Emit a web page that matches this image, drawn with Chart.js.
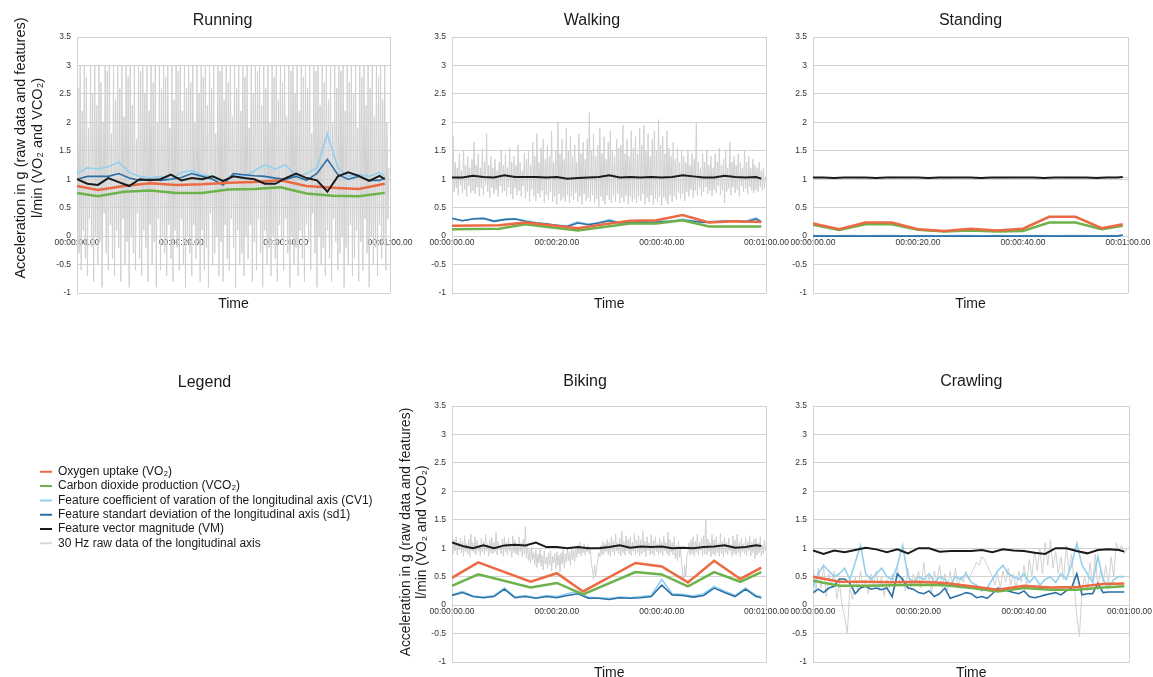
<!DOCTYPE html>
<html>
<head>
<meta charset="utf-8">
<script src="https://cdn.jsdelivr.net/npm/chart.js@4.4.0/dist/chart.umd.min.js"></script>
<style>
  html, body { margin: 0; padding: 0; background: #fff; }
  body { width: 1153px; height: 677px; overflow: hidden; position: relative; }
  canvas { position: absolute; }
</style>
</head>
<body>
<canvas id="running" width="420" height="330" style="left:0;top:0"></canvas>
<canvas id="walking" width="390" height="330" style="left:400px;top:0"></canvas>
<canvas id="standing" width="373" height="330" style="left:780px;top:0"></canvas>
<canvas id="legend" width="440" height="260" style="left:0;top:360px"></canvas>
<canvas id="biking" width="410" height="340" style="left:380px;top:360px"></canvas>
<canvas id="crawling" width="373" height="340" style="left:780px;top:360px"></canvas>
<script>
// ── Shared time grids (seconds) ──
const featTime = [0, 2, 4, 6, 8, 10, 12, 14, 16, 18, 20, 22, 24, 26, 28, 30, 32, 34, 36, 38, 40, 42, 44, 46, 48, 50, 52, 54, 56, 58, 59];
const featTime1s = [0, 1, 2, 3, 4, 5, 6, 7, 8, 9, 10, 11, 12, 13, 14, 15, 16, 17, 18, 19, 20, 21, 22, 23, 24, 25, 26, 27, 28, 29,
  30, 31, 32, 33, 34, 35, 36, 37, 38, 39, 40, 41, 42, 43, 44, 45, 46, 47, 48, 49, 50, 51, 52, 53, 54, 55, 56, 57, 58, 59];
const xTicks = [0, 20, 40, 60];
const yTicks = [-1, -0.5, 0, 0.5, 1, 1.5, 2, 2.5, 3, 3.5];

// ── Running ──
const runningGasTime = [0, 4, 9, 14, 19, 24, 29, 34, 39, 44, 49, 54, 59];
const runningVO2 = [0.88, 0.81, 0.88, 0.93, 0.9, 0.91, 0.94, 0.95, 0.98, 0.88, 0.85, 0.83, 0.92];
const runningVCO2 = [0.76, 0.7, 0.78, 0.8, 0.76, 0.76, 0.82, 0.83, 0.86, 0.75, 0.71, 0.7, 0.76];
const runningCV1 = [1.1, 1.2, 1.18, 1.22, 1.3, 1.12, 1.05, 1.02, 1.05, 1.0, 1.12, 1.15, 1.08, 1.05, 0.95, 1.1, 1.05, 1.15, 1.25, 1.18, 1.25, 1.05, 1.1, 1.2, 1.8, 1.2, 1.05, 1.08, 1.05, 1.12, 1.05];
const runningSD1 = [1.0, 1.05, 1.05, 1.05, 1.1, 1.02, 0.98, 1.0, 0.98, 1.0, 1.03, 1.1, 1.05, 1.0, 0.9, 1.1, 1.08, 1.06, 1.05, 1.02, 1.0, 1.05, 0.98, 1.1, 1.35, 1.08, 1.0, 1.05, 0.98, 0.98, 1.02];
const runningVM = [1.0, 0.92, 0.9, 1.02, 0.95, 0.88, 1.0, 0.98, 1.0, 1.08, 0.98, 1.02, 1.0, 1.05, 0.97, 1.05, 1.02, 1.0, 0.92, 0.92, 1.02, 1.1, 1.02, 0.98, 0.78, 1.05, 1.12, 1.06, 0.97, 1.06, 1.0];
const runningRaw = [
  1.0, 2.6, -0.3, 3.0, -0.6, 2.2, 0.1, 3.0, -0.4, 2.8,
  -0.7, 1.9, 0.3, 3.0, -0.2, 2.5, -0.8, 3.0, 0.0, 2.3,
  -0.5, 3.0, -0.1, 2.7, -0.9, 2.0, 0.4, 3.0, -0.3, 2.9,
  -0.6, 3.0, 0.2, 1.8, -0.4, 3.0, -0.7, 2.4, 0.1, 3.0,
  -0.2, 2.6, -0.8, 3.0, 0.3, 2.1, -0.5, 3.0, -0.1, 2.8,
  -0.9, 3.0, 0.0, 2.3, -0.3, 3.0, -0.6, 1.7, 0.4, 3.0,
  -0.4, 2.9, -0.7, 3.0, 0.1, 2.5, -0.2, 3.0, -0.8, 2.2,
  0.2, 3.0, -0.5, 2.7, -0.1, 3.0, -0.9, 2.0, 0.3, 3.0,
  -0.6, 2.6, 0.0, 3.0, -0.3, 2.8, -0.7, 3.0, 0.2, 1.9,
  -0.4, 3.0, -0.8, 2.4, 0.1, 3.0, -0.2, 2.9, -0.6, 3.0,
  0.3, 2.2, -0.5, 3.0, -0.9, 2.6, 0.0, 3.0, -0.3, 2.7,
  -0.7, 3.0, 0.2, 2.0, -0.4, 3.0, -0.1, 2.5, -0.8, 3.0,
  0.1, 2.8, -0.6, 3.0, -0.2, 2.3, -0.9, 3.0, 0.4, 2.6,
  -0.5, 3.0, -0.3, 1.8, 0.0, 3.0, -0.7, 2.9, -0.1, 3.0,
  -0.8, 2.4, 0.2, 3.0, -0.4, 2.7, -0.6, 3.0, 0.3, 2.1,
  -0.2, 3.0, -0.9, 2.6, 0.1, 3.0, -0.5, 2.2, -0.3, 3.0,
  -0.7, 2.8, 0.0, 3.0, -0.4, 1.9, 0.2, 3.0, -0.8, 2.5,
  -0.1, 3.0, -0.6, 2.9, 0.3, 3.0, -0.3, 2.3, -0.9, 3.0,
  0.1, 2.6, -0.5, 3.0, -0.2, 2.0, -0.7, 3.0, 0.0, 2.8,
  -0.4, 3.0, -0.8, 2.4, 0.2, 3.0, -0.1, 2.7, -0.6, 3.0,
  0.3, 2.1, -0.3, 3.0, -0.9, 2.9, 0.0, 3.0, -0.5, 2.5,
  -0.2, 3.0, -0.7, 2.2, 0.1, 3.0, -0.4, 2.8, -0.8, 3.0,
  0.2, 2.6, -0.1, 3.0, -0.6, 1.8, 0.4, 3.0, -0.3, 2.9,
  -0.9, 3.0, 0.0, 2.3, -0.5, 3.0, -0.2, 2.7, -0.7, 3.0,
  0.1, 2.4, -0.4, 3.0, -0.8, 2.0, 0.3, 3.0, -0.1, 2.6,
  -0.6, 3.0, -0.3, 2.9, 0.0, 3.0, -0.9, 2.2, -0.2, 3.0,
  -0.5, 2.7, 0.2, 3.0, -0.7, 2.5, -0.4, 3.0, 0.1, 1.9,
  -0.8, 3.0, -0.1, 2.8, -0.6, 3.0, 0.3, 2.3, -0.3, 3.0,
  -0.9, 2.6, 0.0, 3.0, -0.5, 2.1, -0.2, 3.0, -0.7, 2.8,
  0.2, 3.0, -0.4, 2.4, -0.1, 3.0, -0.6, 2.0, 0.3, 1.2
];

// ── Walking ──
const walkingGasTime = [0, 9, 14, 19, 24, 29, 34, 39, 44, 49, 54, 59];
const walkingVO2 = [0.18, 0.19, 0.24, 0.19, 0.14, 0.21, 0.27, 0.28, 0.37, 0.24, 0.26, 0.25];
const walkingVCO2 = [0.12, 0.13, 0.21, 0.15, 0.1, 0.16, 0.22, 0.22, 0.28, 0.17, 0.17, 0.17];
const walkingCV1 = [0.32, 0.27, 0.31, 0.32, 0.27, 0.3, 0.31, 0.27, 0.24, 0.22, 0.19, 0.18, 0.25, 0.21, 0.24, 0.29, 0.24, 0.25, 0.26, 0.25, 0.26, 0.27, 0.3, 0.27, 0.25, 0.26, 0.27, 0.27, 0.26, 0.32, 0.26];
const walkingSD1 = [0.31, 0.27, 0.3, 0.31, 0.26, 0.29, 0.3, 0.26, 0.23, 0.21, 0.19, 0.17, 0.23, 0.2, 0.23, 0.27, 0.23, 0.24, 0.25, 0.24, 0.25, 0.26, 0.28, 0.26, 0.24, 0.25, 0.26, 0.26, 0.25, 0.3, 0.25];
const walkingVM = [1.03, 1.03, 1.06, 1.04, 1.03, 1.07, 1.04, 1.04, 1.04, 1.03, 1.04, 1.01, 1.02, 1.03, 1.04, 1.07, 1.03, 1.04, 1.03, 1.04, 1.03, 1.04, 1.07, 1.05, 1.03, 1.03, 1.06, 1.04, 1.03, 1.04, 1.01];
const walkingRaw = [
  1.0, 1.75, 0.78, 1.3, 0.85, 1.2, 0.72, 1.45, 0.9, 1.15,
  0.75, 1.5, 0.82, 1.25, 0.7, 1.4, 0.88, 1.2, 0.76, 1.35,
  0.8, 1.65, 0.74, 1.25, 0.86, 1.45, 0.7, 1.2, 0.84, 1.55,
  0.72, 1.3, 0.9, 1.8, 0.78, 1.25, 0.68, 1.4, 0.85, 1.2,
  0.74, 1.35, 0.82, 1.15, 0.7, 1.3, 0.88, 1.5, 0.76, 1.25,
  0.8, 1.45, 0.7, 1.2, 0.86, 1.55, 0.74, 1.3, 0.65, 1.4,
  0.84, 1.25, 0.72, 1.6, 0.8, 1.3, 0.7, 1.15, 0.88, 1.45,
  0.66, 1.35, 0.78, 1.5, 0.6, 1.25, 0.82, 1.65, 0.7, 1.4,
  0.62, 1.8, 0.75, 1.3, 0.68, 1.55, 0.8, 1.7, 0.58, 1.35,
  0.72, 1.6, 0.64, 1.4, 0.78, 1.85, 0.6, 1.3, 0.7, 1.5,
  0.56, 2.0, 0.74, 1.45, 0.62, 1.7, 0.68, 1.35, 0.6, 1.9,
  0.72, 1.5, 0.58, 1.75, 0.7, 1.4, 0.64, 1.6, 0.76, 1.3,
  0.6, 1.8, 0.7, 1.45, 0.56, 1.65, 0.74, 1.35, 0.62, 1.7,
  0.68, 2.17, 0.6, 1.5, 0.72, 1.8, 0.58, 1.4, 0.66, 1.6,
  0.5, 1.9, 0.7, 1.45, 0.62, 1.75, 0.56, 1.35, 0.72, 1.65,
  0.64, 1.85, 0.58, 1.5, 0.7, 1.4, 0.6, 1.7, 0.74, 1.55,
  0.58, 1.6, 0.68, 1.95, 0.6, 1.45, 0.72, 1.7, 0.56, 1.4,
  0.7, 1.85, 0.6, 1.55, 0.66, 1.75, 0.58, 1.45, 0.7, 1.9,
  0.62, 1.6, 0.74, 1.95, 0.56, 1.5, 0.68, 1.8, 0.6, 1.4,
  0.72, 1.7, 0.55, 1.85, 0.66, 1.5, 0.6, 2.05, 0.7, 1.6,
  0.54, 1.75, 0.68, 1.45, 0.62, 1.85, 0.56, 1.55, 0.72, 1.4,
  0.6, 1.65, 0.7, 1.35, 0.64, 1.55, 0.76, 1.3, 0.66, 1.5,
  0.74, 1.4, 0.62, 1.3, 0.78, 1.5, 0.7, 1.25, 0.82, 1.45,
  0.68, 1.35, 0.8, 1.98, 0.72, 1.3, 0.84, 1.2, 0.7, 1.45,
  0.78, 1.3, 0.86, 1.5, 0.74, 1.25, 0.8, 1.4, 0.7, 1.2,
  0.82, 1.45, 0.76, 1.3, 0.88, 1.55, 0.72, 1.25, 0.8, 1.35,
  0.58, 1.5, 0.78, 1.2, 0.84, 1.65, 0.72, 1.3, 0.86, 1.4,
  0.76, 1.25, 0.82, 1.45, 0.7, 1.3, 0.88, 1.2, 0.78, 1.5,
  0.84, 1.3, 0.74, 1.4, 0.86, 1.2, 0.8, 1.35, 0.76, 1.25,
  0.82, 1.2, 0.78, 1.3, 0.86, 1.15, 0.8, 1.2, 0.84, 1.05
];

// ── Standing ──
const standingGasTime = [0, 5, 10, 15, 20, 25, 30, 35, 40, 45, 50, 55, 59];
const standingVO2 = [0.22, 0.12, 0.24, 0.24, 0.12, 0.09, 0.13, 0.1, 0.13, 0.34, 0.34, 0.14, 0.21];
const standingVCO2 = [0.2, 0.11, 0.21, 0.21, 0.11, 0.08, 0.1, 0.08, 0.09, 0.24, 0.24, 0.12, 0.18];
const standingCV1 = [0.01, 0.01, 0.0, 0.01, 0.01, 0.0, 0.01, 0.01, 0.01, 0.0, 0.01, 0.01, 0.0, 0.01, 0.01, 0.01, 0.0, 0.01, 0.01, 0.0, 0.01, 0.01, 0.01, 0.0, 0.01, 0.01, 0.01, 0.0, 0.01, 0.01, 0.02];
const standingSD1 = [0.0, 0.0, 0.0, 0.0, 0.0, 0.0, 0.0, 0.0, 0.0, 0.0, 0.0, 0.0, 0.0, 0.0, 0.0, 0.0, 0.0, 0.0, 0.0, 0.0, 0.0, 0.0, 0.0, 0.0, 0.0, 0.0, 0.0, 0.0, 0.0, 0.0, 0.02];
const standingVM = [1.03, 1.03, 1.02, 1.03, 1.03, 1.03, 1.02, 1.03, 1.03, 1.03, 1.03, 1.02, 1.03, 1.03, 1.03, 1.03, 1.02, 1.03, 1.03, 1.03, 1.03, 1.03, 1.02, 1.03, 1.03, 1.03, 1.03, 1.02, 1.03, 1.03, 1.04];
const standingRaw = [1.02, 1.03, 1.02, 1.04, 1.03, 1.02, 1.03, 1.02, 1.03, 1.03, 1.02, 1.04, 1.03];

// ── Biking ──
const bikingGasTime = [0, 5, 15, 20, 25, 35, 40, 45, 50, 55, 59];
const bikingVO2 = [0.48, 0.75, 0.41, 0.56, 0.24, 0.74, 0.68, 0.4, 0.78, 0.46, 0.66];
const bikingVCO2 = [0.34, 0.54, 0.31, 0.39, 0.19, 0.58, 0.54, 0.33, 0.58, 0.41, 0.58];
const bikingCV1 = [0.18, 0.24, 0.16, 0.14, 0.17, 0.3, 0.14, 0.17, 0.13, 0.17, 0.15, 0.2, 0.24, 0.14, 0.13, 0.12, 0.14, 0.13, 0.15, 0.17, 0.45, 0.2, 0.19, 0.16, 0.2, 0.33, 0.25, 0.17, 0.3, 0.17, 0.15];
const bikingSD1 = [0.17, 0.22, 0.15, 0.13, 0.15, 0.28, 0.13, 0.15, 0.12, 0.15, 0.13, 0.17, 0.2, 0.12, 0.12, 0.1, 0.13, 0.12, 0.13, 0.15, 0.35, 0.18, 0.17, 0.14, 0.17, 0.3, 0.22, 0.15, 0.28, 0.15, 0.13];
const bikingVM = [1.1, 1.04, 1.0, 1.05, 1.0, 1.05, 1.06, 1.05, 1.1, 1.02, 1.02, 1.0, 1.02, 1.0, 1.0, 1.02, 1.05, 1.01, 1.03, 1.02, 1.03, 1.0, 1.01, 1.0, 1.02, 1.03, 1.05, 1.01, 1.02, 1.05, 1.04];
const bikingRaw = [
  1.05, 0.9, 1.15, 0.95, 1.2, 0.88, 1.1, 0.97, 1.18, 0.92,
  1.12, 0.86, 1.22, 0.94, 1.08, 0.9, 1.16, 0.85, 1.25, 0.95,
  1.1, 0.92, 1.2, 0.88, 1.14, 0.96, 1.06, 0.87, 1.18, 0.93,
  1.12, 0.89, 1.24, 0.95, 1.08, 0.86, 1.15, 0.92, 1.2, 0.9,
  1.1, 0.94, 1.28, 0.88, 1.12, 0.97, 1.05, 0.9, 1.16, 0.86,
  1.2, 0.93, 1.1, 0.88, 1.18, 0.95, 1.08, 0.84, 1.22, 0.92,
  1.14, 0.9, 1.06, 0.87, 1.2, 0.94, 1.1, 0.85, 1.16, 0.9,
  1.38, 0.82, 1.05, 0.78, 0.98, 0.74, 1.02, 0.8, 0.92, 0.7,
  0.98, 0.66, 0.9, 0.74, 1.0, 0.68, 0.88, 0.62, 0.95, 0.72,
  0.85, 0.65, 0.92, 0.7, 0.96, 0.6, 0.86, 0.74, 0.9, 0.64,
  0.94, 0.7, 0.88, 0.58, 0.92, 0.72, 0.98, 0.66, 0.9, 0.75,
  1.0, 0.78, 0.94, 0.7, 1.02, 0.8, 0.96, 0.76, 1.04, 0.84,
  1.05, 0.9, 1.1, 0.86, 1.02, 0.92, 1.08, 0.88, 1.0, 0.94,
  1.06, 0.9, 0.98, 0.72, 0.62, 0.45, 0.7, 0.5, 0.66, 0.8,
  0.92, 0.85, 1.05, 0.88, 1.12, 0.9, 1.08, 0.94, 1.15, 0.89,
  1.1, 0.86, 1.2, 0.93, 1.12, 0.88, 1.25, 0.95, 1.1, 0.9,
  1.18, 0.86, 1.3, 0.92, 1.12, 0.88, 1.22, 0.95, 1.15, 0.9,
  1.2, 0.87, 1.1, 0.94, 1.26, 0.89, 1.14, 0.92, 1.22, 0.86,
  1.15, 0.9, 1.3, 0.93, 1.12, 0.85, 1.2, 0.96, 1.1, 0.88,
  1.24, 0.9, 1.14, 0.86, 1.2, 0.94, 1.08, 0.88, 1.18, 0.92,
  1.12, 0.87, 1.22, 0.95, 1.1, 0.9, 1.28, 0.86, 1.15, 0.93,
  1.1, 0.88, 1.2, 0.82, 1.05, 0.78, 1.12, 0.84, 1.0, 0.75,
  0.55, 0.42, 0.7, 0.5, 0.85, 0.92, 1.1, 0.88, 1.15, 0.9,
  1.2, 0.86, 1.12, 0.93, 1.25, 0.88, 1.1, 0.95, 1.18, 0.86,
  1.22, 0.9, 1.5, 0.88, 1.16, 0.94, 1.1, 0.85, 1.24, 0.9,
  1.15, 0.87, 1.2, 0.93, 1.08, 0.86, 1.26, 0.9, 1.12, 0.84,
  1.2, 0.92, 1.1, 0.88, 1.18, 0.95, 1.06, 0.86, 1.22, 0.9,
  1.14, 0.88, 1.25, 0.92, 1.1, 0.85, 1.18, 0.94, 1.08, 0.9,
  1.2, 0.87, 1.12, 0.95, 1.22, 0.86, 1.1, 0.92, 1.16, 0.82,
  1.18, 0.88, 1.1, 0.92, 1.2, 0.86, 1.05, 0.9, 1.15, 0.95
];

// ── Crawling ──
const crawlingGasTime = [0, 5, 10, 15, 20, 25, 30, 35, 40, 45, 50, 55, 59];
const crawlingVO2 = [0.5, 0.41, 0.41, 0.4, 0.41, 0.39, 0.33, 0.27, 0.34, 0.31, 0.32, 0.37, 0.38];
const crawlingVCO2 = [0.43, 0.34, 0.34, 0.35, 0.36, 0.35, 0.3, 0.24, 0.3, 0.27, 0.27, 0.31, 0.33];
const crawlingCV1 = [
  0.3, 0.55, 0.7, 0.6, 0.5, 0.55, 0.65, 0.45, 0.75, 1.05,
  0.55, 0.45, 0.55, 0.65, 0.5, 0.45, 0.7, 1.05, 0.5, 0.4,
  0.5, 0.45, 0.55, 0.4, 0.5, 0.45, 0.35, 0.5, 0.45, 0.55,
  0.4, 0.35, 0.25, 0.3, 0.45, 0.6, 0.7, 0.55, 0.5, 0.45,
  0.55, 0.4, 0.5, 0.35, 0.45, 0.5, 0.4, 0.55, 0.45, 0.7,
  1.08, 0.7, 0.55, 0.4, 0.85, 0.45, 0.3, 0.45, 0.5, 0.5
];
const crawlingSD1 = [
  0.22, 0.28, 0.22, 0.3, 0.33, 0.46, 0.46, 0.38, 0.2, 0.3,
  0.33, 0.28, 0.3, 0.27, 0.3, 0.15, 0.55, 0.45, 0.3, 0.28,
  0.22, 0.2, 0.25, 0.15, 0.2, 0.3, 0.12, 0.15, 0.18, 0.22,
  0.2, 0.13, 0.15, 0.12, 0.2, 0.3, 0.28, 0.25, 0.22, 0.2,
  0.25, 0.15, 0.13, 0.15, 0.18, 0.2, 0.22, 0.18, 0.25, 0.3,
  0.55, 0.18, 0.2, 0.2, 0.38, 0.22, 0.23, 0.23, 0.23, 0.23
];
const crawlingVM = [0.96, 0.9, 0.96, 0.93, 0.97, 1.01, 0.98, 0.93, 0.98, 0.91, 1.0, 1.0, 0.94, 0.95, 0.95, 0.95, 0.97, 0.93, 0.98, 0.96, 0.95, 0.92, 0.9, 1.0, 1.0, 0.95, 0.91, 0.97, 0.98, 0.97, 0.94];
const crawlingRaw = [
  0.8, 0.2, 0.65, 0.3, 0.7, 0.15, 0.55, 0.35, 0.6, 0.1,
  0.4, 0.0, -0.2, -0.5, 0.3, 0.1, 0.5, 0.25, 0.6, 0.3,
  0.45, 0.2, 0.55, 0.35, 0.6, 0.25, 0.5, 0.15, 0.45, 0.3,
  0.55, 0.3, 0.7, 0.35, 0.5, 0.25, 0.65, 0.3, 0.55, 0.4,
  0.6, 0.3, 0.75, 0.35, 0.5, 0.2, 0.6, 0.4, 0.7, 0.3,
  0.55, 0.25, 0.6, 0.35, 0.65, 0.3, 0.5, 0.4, 0.6, 0.45,
  0.55, 0.65, 0.75, 0.7, 0.85, 0.8, 0.7, 0.6, 0.5, 0.35,
  0.55, 0.3, 0.6, 0.4, 0.65, 0.35, 0.55, 0.3, 0.6, 0.4,
  0.7, 0.35, 0.8, 0.5, 0.95, 0.6, 1.0, 0.55, 1.1, 0.7,
  1.15, 0.65, 0.95, 0.55, 0.85, 0.45, 1.05, 0.6, 0.9, 0.4,
  -0.2, -0.55, 0.3, 0.5, 0.25, 0.75, 0.35, 0.9, 0.3, 0.6,
  0.4, 0.7, 0.35, 0.85, 0.5, 1.1, 0.95, 1.05, 0.9, 1.0
];

// ── Legend entries ──
const legendLabels = [
  'Oxygen uptake (VO\u2082)',
  'Carbon dioxide production (VCO\u2082)',
  'Feature coefficient of varation of the longitudinal axis (CV1)',
  'Feature standart deviation of the longitudinal axis (sd1)',
  'Feature vector magnitude (VM)',
  '30 Hz raw data of the longitudinal axis'
];

const FONT = '"Liberation Sans", Arial, Helvetica, sans-serif';
Chart.defaults.font.family = FONT;
Chart.defaults.color = '#333';

const GRID = '#d2d2d2';
const colors = { vo2: '#ec6a43', vco2: '#6db24a', cv1: '#93d0ee', sd1: '#2a6fa5', vm: '#1b1b1b', raw: '#d0d0d0' };
const legendColors = [colors.vo2, colors.vco2, colors.cv1, colors.sd1, colors.vm, '#dadada'];
const yTitleLines = ['Acceleration in g (raw data and features)', 'l/min (VO\u2082 and VCO\u2082)'];

// pair time and value arrays into {x, y} points
function pts(times, values) {
  return values.map((v, i) => ({ x: times[i], y: v }));
}
// raw samples are evenly spaced
function rawPts(values, step) {
  return values.map((v, i) => ({ x: i * step, y: v }));
}
function fmtTime(v) {
  const m = Math.floor(v / 60), s = v % 60;
  return '00:' + String(m).padStart(2, '0') + ':' + String(s).padStart(2, '0') + '.00';
}

// rotated two-line axis title
const sideTitle = {
  id: 'sideTitle',
  afterDraw(chart, args, opts) {
    if (!opts.lines) return;
    const ctx = chart.ctx;
    ctx.save();
    ctx.translate(opts.x, opts.y);
    ctx.rotate(-Math.PI / 2);
    ctx.font = opts.size + 'px ' + FONT;
    ctx.fillStyle = '#1a1a1a';
    ctx.textAlign = 'center';
    ctx.textBaseline = 'middle';
    opts.lines.forEach((t, i) => ctx.fillText(t, 0, i * opts.gap));
    ctx.restore();
  }
};

function line(data, color, width) {
  return { data, borderColor: color, backgroundColor: color, borderWidth: width, pointRadius: 0, tension: 0, fill: false };
}

// box: layout numbers, s: series
function panel(id, title, box, s, yTitle) {
  const datasets = [
    line(pts(s.featTime, s.vm), colors.vm, 2),
    line(pts(s.gasTime, s.vo2), colors.vo2, 2.5),
    line(pts(s.gasTime, s.vco2), colors.vco2, 2.5),
    line(pts(s.sdTime, s.sd1), colors.sd1, 1.6),
    line(pts(s.sdTime, s.cv1), colors.cv1, 1.6),
    line(rawPts(s.raw, s.rawStep), colors.raw, 1)
  ];
  new Chart(document.getElementById(id), {
    type: 'line',
    data: { datasets },
    options: {
      responsive: false,
      animation: false,
      events: [],
      layout: { autoPadding: false, padding: { left: box.padL, right: box.padR, top: 0, bottom: box.padB } },
      plugins: {
        legend: { display: false },
        tooltip: { enabled: false },
        title: {
          display: true, text: title, color: '#1a1a1a', fullSize: box.titleFull,
          font: { size: 16, weight: 'normal' },
          padding: { top: box.titleTop, bottom: box.titleBottom }
        },
        subtitle: {
          display: true, text: 'Time', position: 'bottom', fullSize: false, color: '#1a1a1a',
          font: { size: 14, weight: 'normal' },
          padding: { top: box.timeTop, bottom: 0 }
        },
        sideTitle: yTitle || {}
      },
      scales: {
        x: {
          type: 'linear', min: 0, max: 60,
          position: { y: 0 },
          afterBuildTicks: sc => { sc.ticks = xTicks.map(v => ({ value: v })); },
          grid: {
            drawTicks: false,
            color: c => (c.tick && (c.tick.value === 0 || c.tick.value === 60)) ? GRID : 'rgba(0,0,0,0)'
          },
          border: { color: GRID },
          ticks: { callback: fmtTime, autoSkip: false, maxRotation: 0, padding: 1, color: '#333', font: { size: 8.5 } }
        },
        y: {
          min: -1, max: 3.5,
          afterFit: sc => { sc.width = box.axisW; },
          afterBuildTicks: sc => { sc.ticks = yTicks.map(v => ({ value: v })); },
          grid: { drawTicks: false, color: GRID },
          border: { color: GRID },
          ticks: { callback: v => String(v), padding: 6, color: '#333', font: { size: 8.5 } }
        }
      }
    },
    plugins: [sideTitle]
  });
}

const topBox = { titleTop: 11, titleBottom: 6.8, timeTop: 3.1, padB: 17.1 };
const botBox = { titleTop: 11.9, titleBottom: 14.9, timeTop: 2.6, padB: 18.6 };

panel('running', 'Running', { ...topBox, titleFull: true, padL: 55, padR: 30, axisW: 22 },
  { gasTime: runningGasTime, vo2: runningVO2, vco2: runningVCO2, featTime, sdTime: featTime,
    cv1: runningCV1, sd1: runningSD1, vm: runningVM, raw: runningRaw, rawStep: 0.2 },
  { lines: yTitleLines, x: 21, y: 148, gap: 17, size: 14.5 });

panel('walking', 'Walking', { ...topBox, titleFull: true, padL: 17, padR: 23, axisW: 35 },
  { gasTime: walkingGasTime, vo2: walkingVO2, vco2: walkingVCO2, featTime, sdTime: featTime,
    cv1: walkingCV1, sd1: walkingSD1, vm: walkingVM, raw: walkingRaw, rawStep: 0.2 });

panel('standing', 'Standing', { ...topBox, titleFull: false, padL: 9, padR: 25, axisW: 24 },
  { gasTime: standingGasTime, vo2: standingVO2, vco2: standingVCO2, featTime, sdTime: featTime,
    cv1: standingCV1, sd1: standingSD1, vm: standingVM, raw: standingRaw, rawStep: 5 });

panel('biking', 'Biking', { ...botBox, titleFull: true, padL: 20, padR: 20, axisW: 52 },
  { gasTime: bikingGasTime, vo2: bikingVO2, vco2: bikingVCO2, featTime, sdTime: featTime,
    cv1: bikingCV1, sd1: bikingSD1, vm: bikingVM, raw: bikingRaw, rawStep: 0.2 },
  { lines: yTitleLines, x: 26, y: 172, gap: 16.5, size: 13.8 });

panel('crawling', 'Crawling', { ...botBox, titleFull: false, padL: 9, padR: 23, axisW: 24 },
  { gasTime: crawlingGasTime, vo2: crawlingVO2, vco2: crawlingVCO2, featTime, sdTime: featTime1s,
    cv1: crawlingCV1, sd1: crawlingSD1, vm: crawlingVM, raw: crawlingRaw, rawStep: 0.5 });

// ── Legend panel ──
new Chart(document.getElementById('legend'), {
  type: 'line',
  data: {
    datasets: legendLabels.map((label, i) => ({
      label, data: [], backgroundColor: legendColors[i], borderColor: legendColors[i], borderWidth: 0
    }))
  },
  options: {
    responsive: false,
    animation: false,
    events: [],
    layout: { autoPadding: false, padding: { left: 37.7, right: 68.7, top: 0, bottom: 0 } },
    scales: { x: { display: false }, y: { display: false } },
    plugins: {
      tooltip: { enabled: false },
      title: {
        display: true, text: 'Legend', color: '#1a1a1a',
        font: { size: 16, weight: 'normal' },
        padding: { top: 13.4, bottom: 70.9 }
      },
      legend: {
        display: true, position: 'left', fullSize: false, align: 'start', maxWidth: 342,
        labels: { boxWidth: 12, boxHeight: 2, padding: 2.3, color: '#1a1a1a', font: { size: 12 } }
      }
    }
  }
});
</script>
</body>
</html>
